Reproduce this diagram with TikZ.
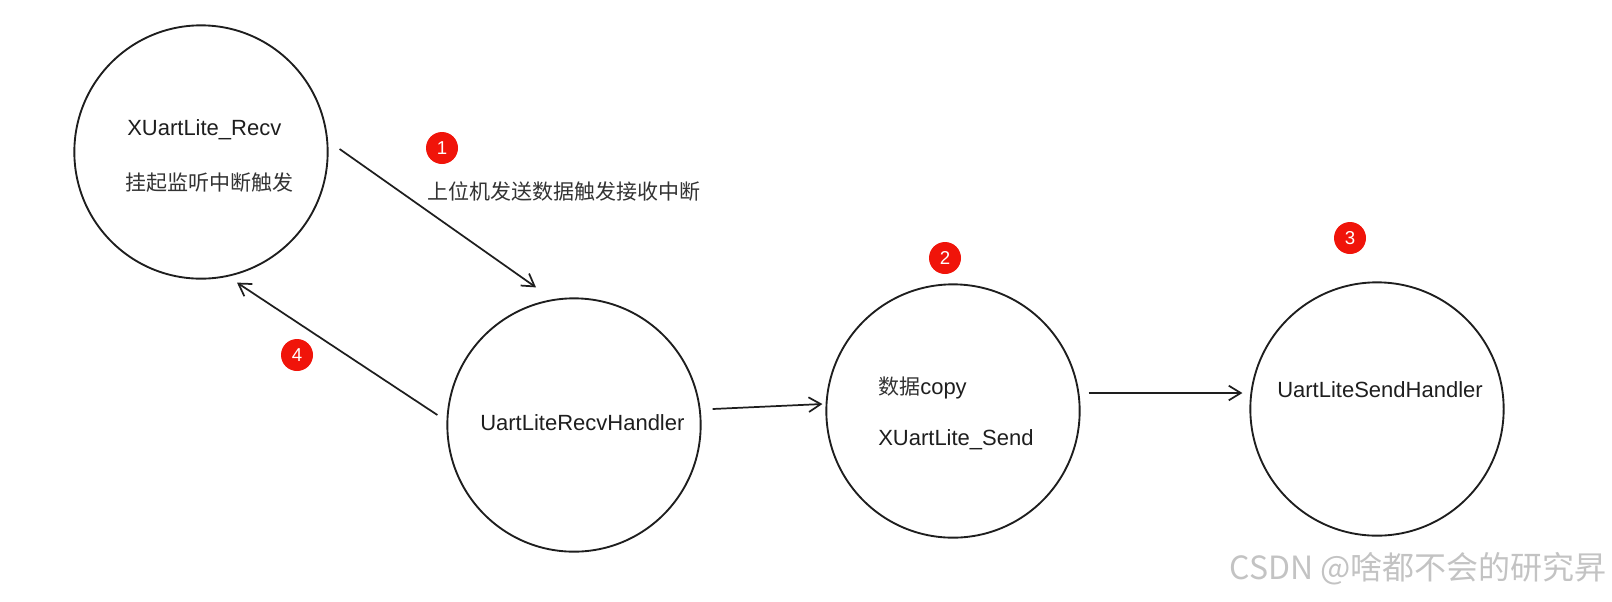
\documentclass[tikz,border=0pt]{standalone}
\usepackage{fontspec}
\setmainfont{Liberation Sans}
\newfontfamily\cjk{Noto Sans CJK SC}
\usetikzlibrary{arrows.meta}
\definecolor{ink}{RGB}{30,30,30}
\definecolor{cjkink}{RGB}{51,51,51}
\definecolor{badgered}{RGB}{240,20,10}
\definecolor{wm}{RGB}{195,195,195}
\begin{document}
\begin{tikzpicture}[x=0.75pt,y=-0.75pt,
  state/.style={circle,draw=ink,line width=1.4pt,minimum size=190pt,inner sep=0pt},
  lbl/.style={anchor=west,inner sep=0pt,text=ink,font=\fontsize{16.5}{19}\selectfont},
  cjklbl/.style={anchor=west,inner sep=0pt,text=cjkink,font=\cjk\fontsize{15.75}{18}\selectfont},
  badge/.style={circle,fill=badgered,minimum size=24pt,inner sep=0pt,text=white,font=\fontsize{14}{16}\selectfont},
  arr/.style={draw=ink,line width=1.3pt,-{Straight Barb[length=9pt,width=11pt]}}]
\useasboundingbox (0,0) rectangle (1612,601);

% states
\node[state] (c1) at (201,152) {};
\node[state] (c2) at (574,425) {};
\node[state] (c3) at (953,411) {};
\node[state] (c4) at (1377,409) {};

% texts
\node[lbl] (t1a) at (127,130) {XUartLite\_Recv};
\node[cjklbl] (t1b) at (125,183) {挂起监听中断触发};
\node[cjklbl] (t12) at (427,191) {上位机发送数据触发接收中断};
\node[lbl] (t2) at (480,423) {UartLiteRecvHandler};
\node[lbl] (t3a) at (878,388) {{\cjk\color{cjkink}\fontsize{15.75}{18}\selectfont 数据}copy};
\node[lbl] (t3b) at (878,440) {XUartLite\_Send};
\node[lbl] (t4) at (1277,390) {UartLiteSendHandler};

% badges
\node[badge] (b1) at (442,148) {1};
\node[badge] (b2) at (945,258) {2};
\node[badge] (b3) at (1350,238) {3};
\node[badge] (b4) at (297,355) {4};

% connectors
\draw[arr] ([shift={(11,-3)}]c1.east) -- ([shift={(-38,-10)}]c2.north);
\draw[arr] ([shift={(-9,-10)}]c2.west) -- ([shift={(36,3)}]c1.south);
\draw[arr] ([shift={(11,-16)}]c2.east) -- ([shift={(-3,-7)}]c3.west);
\draw[arr] ([shift={(8,-18)}]c3.east) -- ([shift={(-7,-16)}]c4.west);

% watermark
\node[anchor=east,inner sep=0pt,text=wm,font=\cjk\fontsize{24}{28}\selectfont] (wm) at (1607,569) {CSDN @啥都不会的研究昇};
\end{tikzpicture}
\end{document}
